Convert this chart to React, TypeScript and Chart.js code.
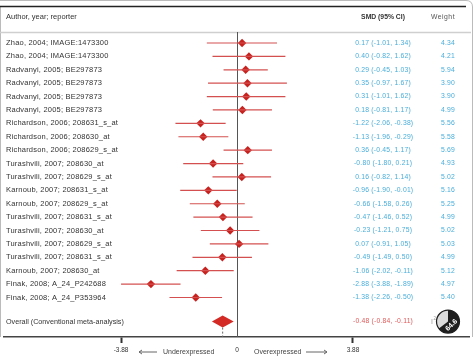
import React, { useEffect, useRef } from "react";
import { Chart, registerables } from "chart.js";

Chart.register(...registerables);

const studies = [
  "Zhao, 2004; IMAGE:1473300",
  "Zhao, 2004; IMAGE:1473300",
  "Radvanyi, 2005; BE297873",
  "Radvanyi, 2005; BE297873",
  "Radvanyi, 2005; BE297873",
  "Radvanyi, 2005; BE297873",
  "Richardson, 2006; 208631_s_at",
  "Richardson, 2006; 208630_at",
  "Richardson, 2006; 208629_s_at",
  "Turashvili, 2007; 208630_at",
  "Turashvili, 2007; 208629_s_at",
  "Karnoub, 2007; 208631_s_at",
  "Karnoub, 2007; 208629_s_at",
  "Turashvili, 2007; 208631_s_at",
  "Turashvili, 2007; 208630_at",
  "Turashvili, 2007; 208629_s_at",
  "Turashvili, 2007; 208631_s_at",
  "Karnoub, 2007; 208630_at",
  "Finak, 2008; A_24_P242688",
  "Finak, 2008; A_24_P353964",
];
const smd = [0.17, 0.4, 0.29, 0.35, 0.31, 0.18, -1.22, -1.13, 0.36, -0.8, 0.16, -0.96, -0.66, -0.47, -0.23, 0.07, -0.49, -1.06, -2.88, -1.38];
const ciLow = [-1.01, -0.82, -0.45, -0.97, -1.01, -0.81, -2.06, -1.96, -0.45, -1.8, -0.82, -1.9, -1.58, -1.46, -1.21, -0.91, -1.49, -2.02, -3.88, -2.26];
const ciHigh = [1.34, 1.62, 1.03, 1.67, 1.62, 1.17, -0.38, -0.29, 1.17, 0.21, 1.14, -0.01, 0.26, 0.52, 0.75, 1.05, 0.5, -0.11, -1.89, -0.5];
const weights = [4.34, 4.21, 5.94, 3.9, 3.9, 4.99, 5.56, 5.58, 5.69, 4.93, 5.02, 5.16, 5.25, 4.99, 5.02, 5.03, 4.99, 5.12, 4.97, 5.4];
const overallLabel = "Overall (Conventional meta-analysis)";
const overallSmd = -0.48;
const overallLow = -0.84;
const overallHigh = -0.11;
const overallRow = 20.8;
const i2 = 64.6;
const xTicks = [-3.88, 0, 3.88];

const FONT = "'Liberation Sans', Arial, sans-serif";
const fmt = (v: number) => v.toFixed(2);

export default function App() {
  const ref = useRef<HTMLCanvasElement>(null);
  useEffect(() => {
    document.body.style.margin = "0";
    const canvas = ref.current!;
    const datasets: any[] = studies.map((_, i) => ({
      type: "line",
      data: [
        { x: ciLow[i], y: i },
        { x: ciHigh[i], y: i },
      ],
      borderColor: "#d45050",
      borderWidth: 1.2,
      pointRadius: 0,
      fill: false,
    }));
    datasets.push({
      type: "scatter",
      data: smd.map((v, i) => ({ x: v, y: i })),
      pointStyle: "rectRot",
      pointRadius: 4.2,
      backgroundColor: "#c8221f",
      borderColor: "#c8221f",
      borderWidth: 0,
    });

    const decor = {
      id: "forestDecor",
      beforeDatasetsDraw(chart: any) {
        const { ctx, scales } = chart;
        const xs = scales.x;
        const ys = scales.y;
        const area = chart.chartArea;
        ctx.save();
        // frame
        ctx.strokeStyle = "#bbbbbb";
        ctx.lineWidth = 1;
        ctx.beginPath();
        ctx.moveTo(0, 0.5);
        ctx.lineTo(466, 0.5);
        ctx.quadraticCurveTo(472.5, 0.5, 472.5, 7);
        ctx.lineTo(472.5, area.bottom);
        ctx.stroke();
        ctx.beginPath();
        ctx.moveTo(0.5, 6);
        ctx.lineTo(0.5, area.bottom);
        ctx.stroke();
        ctx.strokeStyle = "#222";
        ctx.lineWidth = 1.5;
        ctx.beginPath();
        ctx.moveTo(0, 6.5);
        ctx.lineTo(466, 6.5);
        ctx.stroke();
        // header separator
        ctx.strokeStyle = "#cfcfcf";
        ctx.lineWidth = 1.5;
        ctx.beginPath();
        ctx.moveTo(0, 32.5);
        ctx.lineTo(471, 32.5);
        ctx.stroke();
        // zero line
        const x0 = Math.round(xs.getPixelForValue(0)) + 0.5;
        ctx.strokeStyle = "#555";
        ctx.lineWidth = 1;
        ctx.beginPath();
        ctx.moveTo(x0, 32);
        ctx.lineTo(x0, area.bottom);
        ctx.stroke();
        // dashed overall line
        const xo = xs.getPixelForValue(overallSmd);
        const yo = ys.getPixelForValue(overallRow);
        ctx.setLineDash([2, 2]);
        ctx.strokeStyle = "#666";
        ctx.beginPath();
        ctx.moveTo(xo, yo + 6);
        ctx.lineTo(xo, area.bottom);
        ctx.stroke();
        ctx.setLineDash([]);
        ctx.restore();
      },
      afterDatasetsDraw(chart: any) {
        const { ctx, scales } = chart;
        const xs = scales.x;
        const ys = scales.y;
        const area = chart.chartArea;
        ctx.save();
        // overall diamond
        const yo = ys.getPixelForValue(overallRow);
        const xl = xs.getPixelForValue(overallLow);
        const xh = xs.getPixelForValue(overallHigh);
        const xm = xs.getPixelForValue(overallSmd);
        ctx.fillStyle = "#d42a26";
        ctx.beginPath();
        ctx.moveTo(xl, yo);
        ctx.lineTo(xm, yo - 6);
        ctx.lineTo(xh, yo);
        ctx.lineTo(xm, yo + 6);
        ctx.closePath();
        ctx.fill();

        // header
        ctx.textBaseline = "middle";
        ctx.fillStyle = "#333";
        ctx.font = `7.5px ${FONT}`;
        ctx.textAlign = "left";
        ctx.fillText("Author, year; reporter", 6, 17);
        ctx.font = `bold 6.8px ${FONT}`;
        ctx.textAlign = "center";
        ctx.fillText("SMD (95% CI)", 383, 17);
        ctx.font = `6.8px ${FONT}`;
        (ctx as any).letterSpacing = "0.5px";
        ctx.fillStyle = "#555";
        ctx.fillText("Weight", 443, 17);
        (ctx as any).letterSpacing = "0px";

        // rows
        studies.forEach((name, i) => {
          const y = ys.getPixelForValue(i);
          ctx.fillStyle = "#333";
          ctx.font = `7.5px ${FONT}`;
          ctx.textAlign = "left";
          (ctx as any).letterSpacing = "0.2px";
          ctx.fillText(name, 6, y);
          (ctx as any).letterSpacing = "0.2px";
          ctx.fillStyle = "#4aaedb";
          ctx.font = `6.8px ${FONT}`;
          ctx.textAlign = "center";
          ctx.fillText(`${fmt(smd[i])} (${fmt(ciLow[i])}, ${fmt(ciHigh[i])})`, 383, y);
          ctx.textAlign = "right";
          ctx.fillText(fmt(weights[i]), 455, y);
          (ctx as any).letterSpacing = "0px";
        });
        // overall row text
        ctx.fillStyle = "#333";
        ctx.font = `7.2px ${FONT}`;
        ctx.textAlign = "left";
        ctx.fillText(overallLabel, 6, yo);
        ctx.fillStyle = "#e05a5a";
        ctx.font = `6.8px ${FONT}`;
        ctx.textAlign = "center";
        (ctx as any).letterSpacing = "0.2px";
        ctx.fillText(`${fmt(overallSmd)} (${fmt(overallLow)}, ${fmt(overallHigh)})`, 383, yo);
        (ctx as any).letterSpacing = "0px";

        // I2 pie
        const cx = 448;
        const cy = yo;
        const r = 11.5;
        const a0 = -Math.PI / 2;
        const a1 = a0 + (2 * Math.PI * i2) / 100;
        ctx.fillStyle = "#dcdcdc";
        ctx.beginPath();
        ctx.arc(cx, cy, r, 0, Math.PI * 2);
        ctx.fill();
        ctx.fillStyle = "#1e1e1e";
        ctx.beginPath();
        ctx.moveTo(cx, cy);
        ctx.arc(cx, cy, r, a0, a1);
        ctx.closePath();
        ctx.fill();
        ctx.strokeStyle = "#1e1e1e";
        ctx.lineWidth = 1.2;
        ctx.beginPath();
        ctx.arc(cx, cy, r, 0, Math.PI * 2);
        ctx.stroke();
        ctx.save();
        ctx.translate(cx + 3.5, cy + 3.5);
        ctx.rotate(-Math.PI / 4);
        ctx.fillStyle = "#fff";
        ctx.font = `bold 7px ${FONT}`;
        ctx.textAlign = "center";
        ctx.fillText(i2.toFixed(1), 0, 0);
        ctx.restore();
        ctx.fillStyle = "#999";
        ctx.font = `7px ${FONT}`;
        ctx.textAlign = "left";
        ctx.fillText("I", 431, cy);
        ctx.font = `4.5px ${FONT}`;
        ctx.fillText("2", 433.5, cy - 3);

        // direction labels
        const yl = area.bottom + 15;
        ctx.fillStyle = "#444";
        ctx.strokeStyle = "#666";
        ctx.lineWidth = 1;
        ctx.font = `7px ${FONT}`;
        ctx.textAlign = "left";
        ctx.fillText("Underexpressed", 163, yl);
        ctx.fillText("Overexpressed", 254, yl);
        ctx.beginPath();
        ctx.moveTo(139, yl);
        ctx.lineTo(157, yl);
        ctx.moveTo(142, yl - 2);
        ctx.lineTo(139, yl);
        ctx.lineTo(142, yl + 2);
        ctx.moveTo(306, yl);
        ctx.lineTo(327, yl);
        ctx.moveTo(324, yl - 2);
        ctx.lineTo(327, yl);
        ctx.lineTo(324, yl + 2);
        ctx.stroke();
        ctx.restore();
      },
    };

    const chart = new Chart(canvas, {
      type: "scatter",
      data: { datasets },
      options: {
        animation: false,
        responsive: false,
        maintainAspectRatio: false,
        layout: { padding: { left: 0, right: 4, top: 6, bottom: 0 } },
        plugins: { legend: { display: false }, tooltip: { enabled: false } },
        scales: {
          x: {
            type: "linear",
            min: -7.79,
            max: 7.79,
            afterBuildTicks: (axis: any) => {
              axis.ticks = xTicks.map((v) => ({ value: v }));
            },
            afterFit: (axis: any) => {
              axis.height = 24;
            },
            grid: {
              drawOnChartArea: false,
              tickLength: 6,
              tickWidth: 2,
              tickColor: (c: any) => (c.tick && c.tick.value === 0 ? "rgba(0,0,0,0)" : "#333"),
            },
            border: { color: "#444", width: 1.5 },
            ticks: {
              padding: 3,
              color: "#333",
              font: { size: 6.5, family: "'Liberation Sans', Arial, sans-serif" },
              callback: (v: any) => (v === 0 ? "0" : Number(v).toFixed(2)),
              maxRotation: 0,
              autoSkip: false,
            },
          },
          y: {
            type: "linear",
            display: false,
            reverse: true,
            min: -2.762,
            max: 21.95,
          },
        },
      },
      plugins: [decor],
    } as any);
    return () => chart.destroy();
  }, []);
  return (
    <div style={{ position: "absolute", left: 0, top: 0, width: 474, height: 361, background: "#fff" }}>
      <canvas ref={ref} width={474} height={361} style={{ display: "block", width: 474, height: 361 }} />
    </div>
  );
}
